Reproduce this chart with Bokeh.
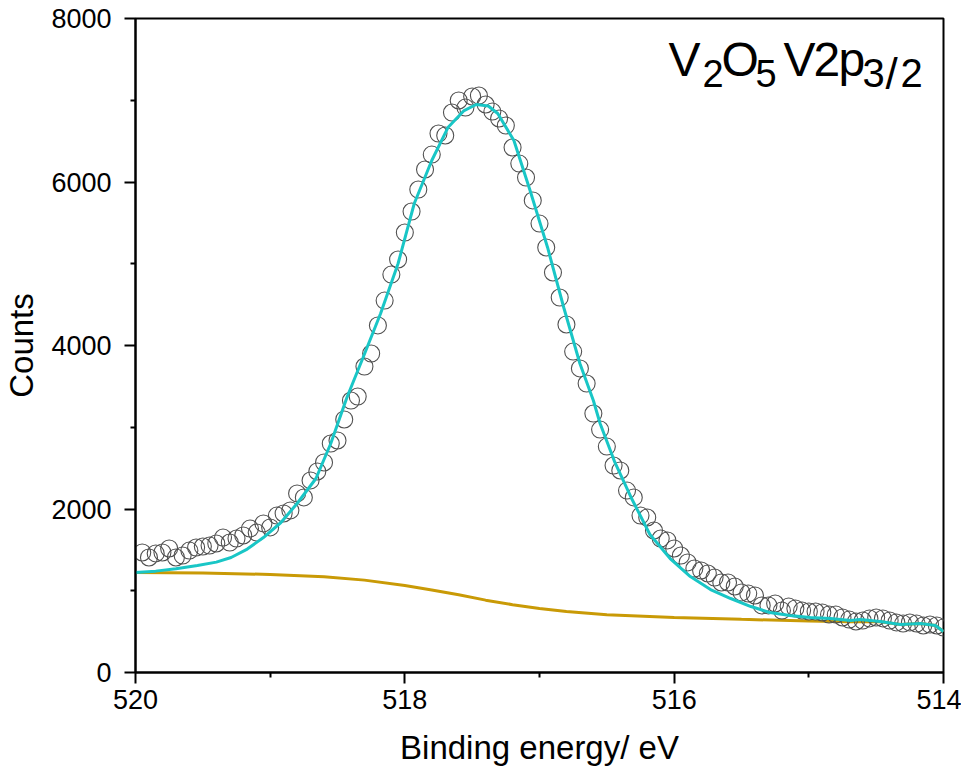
from bokeh.plotting import figure
from bokeh.models import Range1d, FixedTicker, Label
from bokeh.embed import file_html
from bokeh.resources import INLINE

# ---- data ----
energy = [519.95 - 0.05 * i for i in range(120)]
counts = [1468, 1407, 1456, 1468, 1517, 1407, 1431, 1492, 1529, 1541,
          1553, 1578, 1651, 1590, 1639, 1676, 1761, 1712, 1823, 1774,
          1920, 1945, 1982, 2190, 2141, 2349, 2459, 2569, 2801, 2838,
          3095, 3327, 3376, 3743, 3902, 4245, 4550, 4868, 5052, 5382,
          5639, 5908, 6153, 6336, 6593, 6569, 6850, 6997, 6911, 7046,
          7058, 6948, 6862, 6777, 6691, 6422, 6226, 6055, 5774, 5492,
          5199, 4893, 4587, 4257, 3926, 3719, 3535, 3168, 2972, 2764,
          2532, 2471, 2226, 2141, 1920, 1896, 1737, 1639, 1615, 1517,
          1431, 1346, 1272, 1248, 1211, 1162, 1101, 1101, 1052, 979,
          966, 942, 820, 820, 844, 758, 807, 783, 758, 746,
          746, 734, 709, 709, 673, 648, 624, 636, 661, 673,
          661, 636, 612, 599, 612, 599, 575, 587, 575, 550]

fit_energy = [520.0, 519.85, 519.7, 519.54, 519.4, 519.29, 519.17, 519.05, 518.92,
              518.8, 518.66, 518.55, 518.43, 518.31, 518.18, 518.05, 517.93, 517.8,
              517.68, 517.56, 517.47, 517.38, 517.31, 517.19, 517.07, 516.94, 516.82,
              516.7, 516.6, 516.55, 516.44, 516.32, 516.18, 516.03, 515.88, 515.73,
              515.58, 515.43, 515.29, 515.14, 514.99, 514.84, 514.69, 514.62, 514.47,
              514.32, 514.17, 514.06, 514.0]
fit_counts = [1223, 1240, 1268, 1309, 1350, 1407, 1510, 1651, 1835,
              2067, 2373, 2801, 3364, 3853, 4391, 5003, 5737, 6263,
              6666, 6874, 6948, 6930, 6838, 6507, 5896, 5199, 4465,
              3780, 3327, 3046, 2569, 2141, 1688, 1394, 1174, 1015,
              905, 807, 734, 697, 673, 661, 636, 648, 624,
              587, 599, 575, 501]

bg_energy = [520.0, 519.5, 519.0, 518.6, 518.3, 518.0, 517.8, 517.6, 517.4,
             517.2, 517.0, 516.8, 516.5, 516.0, 515.5, 515.0, 514.7, 514.62,
             514.47, 514.32, 514.17, 514.06, 514.0]
bg_counts = [1223, 1218, 1199, 1170, 1130, 1064, 1010, 950, 885,
             830, 783, 745, 705, 673, 650, 630, 622, 620,
             620, 587, 599, 575, 501]

x_ticks = [520, 518, 516, 514]
x_minor = [519, 517, 515]
y_ticks = [0, 2000, 4000, 6000, 8000]
y_minor = [1000, 3000, 5000, 7000]

FONT = "Liberation Sans"

p = figure(output_backend="svg", toolbar_location=None,
           frame_width=808, frame_height=654,
           min_border_left=127, min_border_right=18,
           min_border_top=18, min_border_bottom=98,
           x_range=Range1d(520, 514), y_range=Range1d(0, 8000))

p.background_fill_color = "white"
p.border_fill_color = "white"
p.xgrid.visible = False
p.ygrid.visible = False
p.outline_line_color = "black"
p.outline_line_width = 2
p.outline_line_alpha = 1.0

p.line(bg_energy, bg_counts, line_color="#C99A06", line_width=3)
p.scatter(energy, counts, marker="circle", size=17, fill_color=None,
          line_color="#505050", line_width=1.1)
p.line(fit_energy, fit_counts, line_color="#19C6C6", line_width=3)

for ax in (p.xaxis[0], p.yaxis[0]):
    ax.axis_line_width = 2
    ax.major_tick_line_width = 2
    ax.minor_tick_line_width = 2
    ax.major_tick_out = 11
    ax.major_tick_in = 0
    ax.minor_tick_out = 5
    ax.minor_tick_in = 0
    ax.major_label_text_font = FONT
    ax.major_label_text_font_size = "27px"
    ax.major_label_text_color = "black"
    ax.axis_label_text_font = FONT
    ax.axis_label_text_font_size = "33px"
    ax.axis_label_text_font_style = "normal"
    ax.axis_label_text_color = "black"

p.xaxis.ticker = FixedTicker(ticks=x_ticks, minor_ticks=x_minor)
p.yaxis.ticker = FixedTicker(ticks=y_ticks, minor_ticks=y_minor)
p.xaxis.axis_label = "Binding energy/ eV"
p.yaxis.axis_label = "Counts"
p.xaxis.major_label_standoff = 6
p.yaxis.major_label_standoff = 13
p.xaxis.axis_label_standoff = 17
p.yaxis.axis_label_standoff = 8

# title "V2O5 V2p3/2" with subscripts (x positions in eV, baselines in counts)
main_y = 7500
sub_y = 7330
pieces = [("V", 516.042, main_y, "48px"),
          ("2", 515.790, sub_y, "38px"),
          ("O", 515.649, main_y, "48px"),
          ("5", 515.396, sub_y, "38px"),
          ("V", 515.188, main_y, "48px"),
          ("2", 514.965, main_y, "48px"),
          ("p", 514.780, main_y, "48px"),
          ("3", 514.601, sub_y, "40px"),
          ("/", 514.430, sub_y, "44px"),
          ("2", 514.320, sub_y, "40px")]
for txt, xx, yy, fs in pieces:
    p.add_layout(Label(x=xx, y=yy, text=txt, text_font=FONT, text_font_size=fs,
                       text_baseline="alphabetic", text_align="left",
                       text_color="black"))

open("out.html", "w").write(file_html(p, INLINE))
